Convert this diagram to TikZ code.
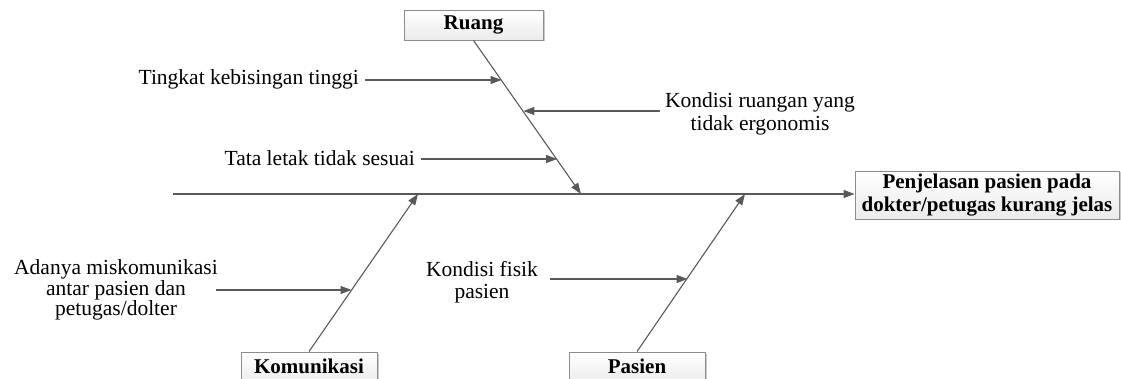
\documentclass[tikz,border=0pt]{standalone}
\usepackage{fontspec}
\setmainfont{Liberation Serif}
\usetikzlibrary{calc,shadows,arrows.meta}
\begin{document}
\begin{tikzpicture}[x=1pt,y=-1pt,
  bone/.style={draw=black!65, line width=1.1pt},
  causearrow/.style={bone, -{Triangle[length=11pt,width=8pt]}},
  catbox/.style={draw=black!45, line width=0.9pt, top color=white, bottom color=black!8,
    drop shadow={shadow xshift=1.5pt, shadow yshift=-1.5pt, fill=black!35, opacity=0.6},
    font=\fontsize{21}{23}\selectfont\bfseries, inner sep=0pt, align=center},
  cause/.style={font=\fontsize{21.5}{22.5}\selectfont, inner sep=0pt, align=center}
]
\useasboundingbox (0,0) rectangle (1121,379);

% effect and spine
\node[catbox, minimum width=264pt, minimum height=48pt] (effect) at (987,195)
  {Penjelasan pasien pada\\dokter/petugas kurang jelas};
\coordinate (tail) at (173,194);
\draw[causearrow] (tail) -- (tail -| effect.west);

% category boxes
\node[catbox, minimum width=139pt, minimum height=30pt] (ruang) at (473.5,25) {Ruang};
\node[catbox, minimum width=136pt, minimum height=34pt] (komunikasi) at (309,369) {\raisebox{6pt}{Komunikasi}};
\node[catbox, minimum width=136pt, minimum height=34pt] (pasien) at (637,369) {\raisebox{6pt}{Pasien}};

% joints on the spine
\coordinate (jr) at (581,194);
\coordinate (jk) at (418,194);
\coordinate (jp) at (745,194);

% main bones
\draw[causearrow] (ruang.south) -- (jr);
\draw[causearrow] (komunikasi.north) -- (jk);
\draw[causearrow] (pasien.north) -- (jp);

% points on the bones
\coordinate (r1) at ($(ruang.south)!0.261!(jr)$);
\coordinate (r2) at ($(ruang.south)!0.464!(jr)$);
\coordinate (r3) at ($(ruang.south)!0.778!(jr)$);
\coordinate (k1) at ($(komunikasi.north)!0.39!(jk)$);
\coordinate (p1) at ($(pasien.north)!0.468!(jp)$);

% causes
\node[cause, anchor=east] (c1) at (359,79) {Tingkat kebisingan tinggi};
\coordinate (s1) at (365,80);
\draw[causearrow] (s1) -- (s1 -| r1);

\node[cause] (c2) at (760,114) {Kondisi ruangan yang\\tidak ergonomis};
\coordinate (s2) at (660,111);
\draw[causearrow] (s2) -- (s2 -| r2);

\node[cause, anchor=east] (c3) at (415,158) {Tata letak tidak sesuai};
\coordinate (s3) at (421,159);
\draw[causearrow] (s3) -- (s3 -| r3);

\node[cause, font=\fontsize{21.5}{20.5}\selectfont] (c4) at (116,290) {Adanya miskomunikasi\\antar pasien dan\\petugas/dolter};
\coordinate (s4) at (216,290);
\draw[causearrow] (s4) -- (s4 -| k1);

\node[cause] (c5) at (482,282) {Kondisi fisik\\pasien};
\coordinate (s5) at (550,279);
\draw[causearrow] (s5) -- (s5 -| p1);
\end{tikzpicture}
\end{document}
